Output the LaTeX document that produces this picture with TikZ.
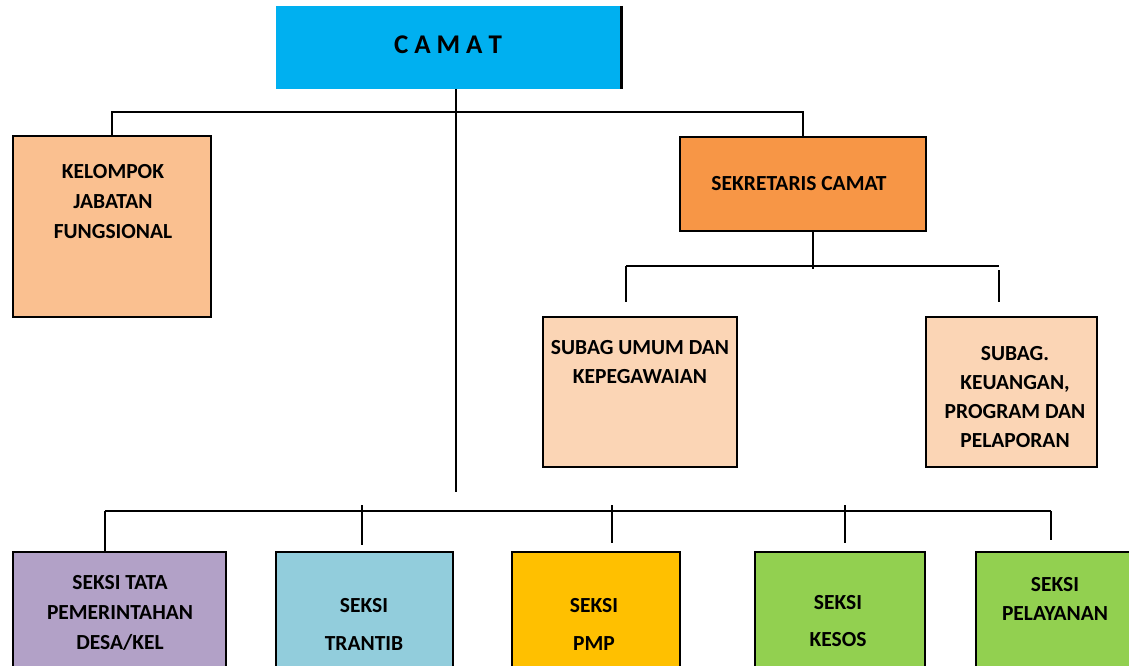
\documentclass[tikz,border=0pt]{standalone}
\usepackage{fontspec}
\setmainfont{Carlito}
\definecolor{camatc}{HTML}{00B0F0}
\definecolor{kelc}{HTML}{FAC090}
\definecolor{sekc}{HTML}{F79646}
\definecolor{subc}{HTML}{FBD5B5}
\definecolor{purc}{HTML}{B2A1C7}
\definecolor{trac}{HTML}{92CDDC}
\definecolor{pmpc}{HTML}{FFC000}
\definecolor{grnc}{HTML}{92D050}
\begin{document}
\begin{tikzpicture}[x=1pt,y=-1pt,
  box/.style={draw=black,line width=2.2pt,inner sep=0pt,rectangle},
  conn/.style={draw=black,line width=2pt},
  lbl/.style={align=center,inner sep=0pt,font=\fontsize{21.5}{30}\selectfont\bfseries}]
\useasboundingbox (0,0) rectangle (1129,666);
\clip (0,0) rectangle (1129,666);
% boxes
\node[fill=camatc,inner sep=0pt,minimum width=345pt,minimum height=83pt] (camat) at (448.5,47.5) {};
\draw[line width=3pt] (camat.north east) -- (camat.south east);
\node[box,fill=kelc,minimum width=198pt,minimum height=181pt] (kel) at (112,226.5) {};
\node[box,fill=sekc,minimum width=246pt,minimum height=94pt] (sek) at (803,184) {};
\node[box,fill=subc,minimum width=194pt,minimum height=150pt] (sub1) at (640,392) {};
\node[box,fill=subc,minimum width=171pt,minimum height=150pt] (sub2) at (1011.5,392) {};
\node[box,fill=purc,minimum width=213pt,minimum height=138pt] (b1) at (119.5,621) {};
\node[box,fill=trac,minimum width=177pt,minimum height=138pt] (b2) at (364.5,621) {};
\node[box,fill=pmpc,minimum width=168pt,minimum height=138pt] (b3) at (596,621) {};
\node[box,fill=grnc,minimum width=170pt,minimum height=138pt] (b4) at (840,621) {};
\node[box,fill=grnc,minimum width=164pt,minimum height=138pt] (b5) at (1058,621) {};
% texts
\node[inner sep=0pt,font=\fontsize{27}{30}\selectfont\bfseries] (tcamat) at (448,45) {C\kern6pt A\kern6pt M\kern6pt A\kern6pt T};
\node[lbl] (tkel) at (113,202) {KELOMPOK\\JABATAN\\FUNGSIONAL};
\node[lbl] (tsek) at (799,184) {SEKRETARIS CAMAT};
\node[lbl,font=\fontsize{21.5}{29}\selectfont\bfseries] (tsub1) at (640,362.5) {SUBAG UMUM DAN\\KEPEGAWAIAN};
\node[lbl,font=\fontsize{21.5}{29}\selectfont\bfseries] (tsub2) at (1015,397.5) {SUBAG.\\KEUANGAN,\\PROGRAM DAN\\PELAPORAN};
\node[lbl] (tb1) at (120,613) {SEKSI TATA\\PEMERINTAHAN\\DESA/KEL};
\node[lbl,font=\fontsize{21.5}{38}\selectfont\bfseries] (tb2) at (364,624) {SEKSI\\TRANTIB};
\node[lbl,font=\fontsize{21.5}{38}\selectfont\bfseries] (tb3) at (594,624) {SEKSI\\PMP};
\node[lbl,font=\fontsize{21.5}{37}\selectfont\bfseries] (tb4) at (838,621.5) {SEKSI\\KESOS};
\node[lbl,font=\fontsize{21.5}{29}\selectfont\bfseries] (tb5) at (1055,598.5) {SEKSI\\PELAYANAN};
% top connectors
\coordinate (t) at (456,112);
\coordinate (mainend) at (456,492);
\draw[conn] (camat.south -| t) -- (t) -- (mainend);
\draw[conn] (kel.north) -- (kel.north |- t) -- (sek.north |- t) -- (sek.north);
% secretary connectors
\coordinate (s2) at (813,269);
\coordinate (sl) at (626,266);
\coordinate (sr) at (999,266);
\coordinate (sla) at (626,302);
\coordinate (sra1) at (999,270);
\coordinate (sra2) at (999,302);
\draw[conn] (sek.south -| s2) -- (s2);
\draw[conn] (sl) -- (sr);
\draw[conn] (sl) -- (sla);
\draw[conn] (sra1) -- (sra2);
% bottom connectors
\coordinate (L) at (105,511);
\coordinate (R) at (1051,511);
\draw[conn] (L) -- (R);
\draw[conn] (L) -- (L |- b1.north);
\coordinate (d2a) at (362,505); \coordinate (d2b) at (362,545);
\coordinate (d3a) at (612,505); \coordinate (d3b) at (612,543);
\coordinate (d4a) at (845,505); \coordinate (d4b) at (845,543);
\coordinate (d5b) at (1051,540);
\draw[conn] (d2a) -- (d2b);
\draw[conn] (d3a) -- (d3b);
\draw[conn] (d4a) -- (d4b);
\draw[conn] (R) -- (d5b);
\end{tikzpicture}
\end{document}
